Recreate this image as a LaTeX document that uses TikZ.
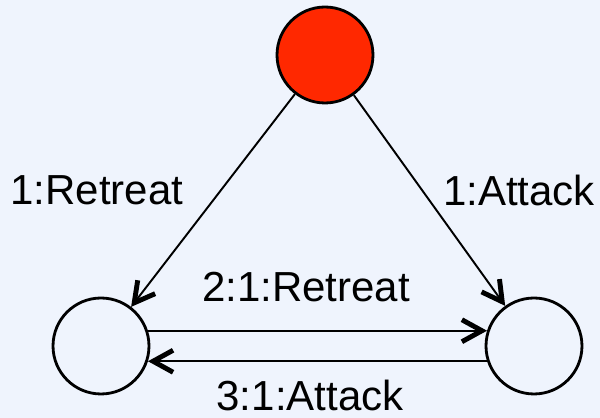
\documentclass[tikz,border=0pt]{standalone}
\usepackage{fontspec}
\setmainfont{Liberation Sans}
\usetikzlibrary{arrows.meta}

\definecolor{paneblue}{RGB}{239,244,253}
\definecolor{playerred}{RGB}{255,40,0}

\tikzset{
    player/.style={circle, draw=black, line width=1.6pt, minimum size=1.92cm, inner sep=0pt},
    move/.style={-{Straight Barb[length=0.4cm, width=0.44cm, line width=2.8pt]}, line width=1.1pt, black},
    move label/.style={font=\fontsize{23.9}{28}\selectfont, inner sep=0pt},
}

\begin{document}
\begin{tikzpicture}[x=0.02cm, y=-0.02cm]

    % background pane
    \fill[paneblue] (0,0) rectangle (600,418);
    \useasboundingbox (0,0) rectangle (600,418);

    % players
    \node[player, fill=playerred] (root) at (325,55) {};
    \node[player] (retreat) at (101,346) {};
    \node[player] (attack) at (534,346) {};

    % moves out of the root
    \draw[move] (root) -- (retreat);
    \draw[move] (root) -- (attack);
    \node[move label] (retreatlbl) at (97,190) {1:Retreat};
    \node[move label] (attacklbl) at (519,190) {1:Attack};

    % moves between the two players
    \draw[move] (retreat.18) -- (attack.162);
    \draw[move] (attack.198) -- (retreat.-18);
    \node[move label] (forthlbl) at (306,287) {2:1:Retreat};
    \node[move label] (backlbl) at (310,395) {3:1:Attack};

\end{tikzpicture}
\end{document}
